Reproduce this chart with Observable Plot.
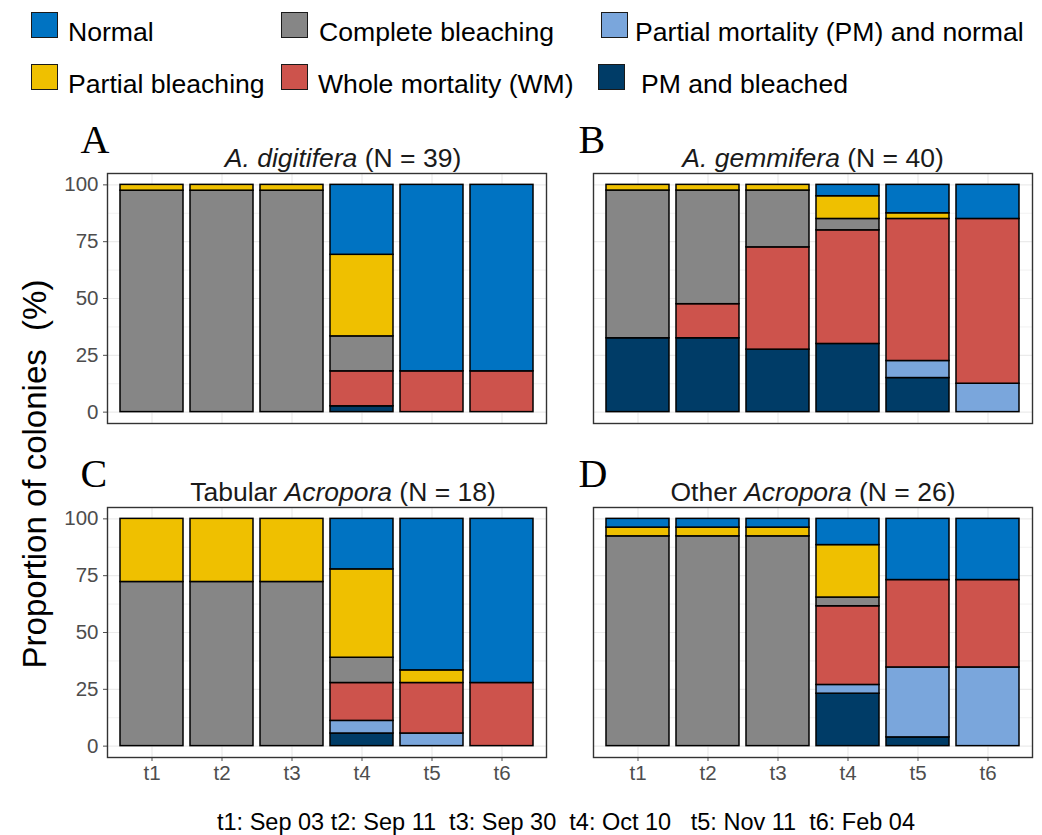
<!DOCTYPE html>
<html>
<head>
<meta charset="utf-8">
<script src="https://cdn.jsdelivr.net/npm/d3@7"></script>
<script src="https://cdn.jsdelivr.net/npm/@observablehq/plot@0.6"></script>
<style>
  body { margin: 0; background: #fff; font-family: "Liberation Sans", Arial, sans-serif; }
  #wrap { position: relative; width: 1042px; height: 835px; overflow: hidden; background: #fff; }
  .sw { position: absolute; box-sizing: border-box; width: 27px; height: 26px; border: 1.5px solid #1a1a1a; }
  .lab { position: absolute; font-size: 26.6px; line-height: 26px; color: #000; white-space: pre; }
  #ytitle { position: absolute; z-index: 5; left: 34px; top: 474px; font-size: 33px; line-height: 33px; color: #000;
            white-space: pre; transform: translate(-50%, -50%) rotate(-90deg); }
  #caption { position: absolute; z-index: 5; left: 566px; top: 811px; font-size: 23.5px; line-height: 23px; color: #000;
             white-space: pre; transform: translateX(-50%); }
  #chart { position: absolute; z-index: 1; left: 0; top: 110px; }
</style>
</head>
<body>
<div id="wrap">
  <div id="legend"></div>
  <div id="ytitle">Proportion of colonies  (%)</div>
  <div id="caption">t1: Sep 03 t2: Sep 11  t3: Sep 30  t4: Oct 10   t5: Nov 11  t6: Feb 04</div>
  <div id="chart"></div>
</div>
<script>
// ---------- data ----------
const times = ["t1", "t2", "t3", "t4", "t5", "t6"];
// stacking order, bottom -> top
const categories = [
  "PM and bleached",
  "Partial mortality (PM) and normal",
  "Whole mortality (WM)",
  "Complete bleaching",
  "Partial bleaching",
  "Normal"
];
const colors = ["#003C67", "#7AA6DC", "#CD534C", "#868686", "#EFC000", "#0073C2"];
const legendOrder = [
  "Normal", "Complete bleaching", "Partial mortality (PM) and normal",
  "Partial bleaching", "Whole mortality (WM)", "PM and bleached"
];

const panelLetters = ["A", "B", "C", "D"];
const titlePre = ["", "", "Tabular ", "Other "];
const titleItalic = ["A. digitifera", "A. gemmifera", "Acropora", "Acropora"];
const colonyN = [39, 40, 18, 26];

// colony counts: rows = categories (bottom -> top), columns = t1..t6
const digitifera = [
  [0, 0, 0, 1, 0, 0],
  [0, 0, 0, 0, 0, 0],
  [0, 0, 0, 6, 7, 7],
  [38, 38, 38, 6, 0, 0],
  [1, 1, 1, 14, 0, 0],
  [0, 0, 0, 12, 32, 32]
];
const gemmifera = [
  [13, 13, 11, 12, 6, 0],
  [0, 0, 0, 0, 3, 5],
  [0, 6, 18, 20, 25, 29],
  [26, 20, 10, 2, 0, 0],
  [1, 1, 1, 4, 1, 0],
  [0, 0, 0, 2, 5, 6]
];
const tabularAcropora = [
  [0, 0, 0, 1, 0, 0],
  [0, 0, 0, 1, 1, 0],
  [0, 0, 0, 3, 4, 5],
  [13, 13, 13, 2, 0, 0],
  [5, 5, 5, 7, 1, 0],
  [0, 0, 0, 4, 12, 13]
];
const otherAcropora = [
  [0, 0, 0, 6, 1, 0],
  [0, 0, 0, 1, 8, 9],
  [0, 0, 0, 9, 10, 10],
  [24, 24, 24, 1, 0, 0],
  [1, 1, 1, 6, 0, 0],
  [1, 1, 1, 3, 7, 7]
];
const yTicks = [0, 25, 50, 75, 100];
const yMinor = [12.5, 37.5, 62.5, 87.5];

// ---------- build tables ----------
const countTables = [digitifera, gemmifera, tabularAcropora, otherAcropora];
const panels = panelLetters.map((letter, i) => ({
  letter,
  col: i % 2,
  row: Math.floor(i / 2),
  pre: titlePre[i],
  ital: titleItalic[i],
  post: ` (N = ${colonyN[i]})`,
  title: titlePre[i] + titleItalic[i] + ` (N = ${colonyN[i]})`
}));
const rows = [];
countTables.forEach((table, s) => {
  table.forEach((counts, c) => {
    counts.forEach((n, t) => {
      if (n > 0) rows.push({
        col: s % 2, row: Math.floor(s / 2),
        time: times[t], category: categories[c],
        pct: n / colonyN[s] * 100
      });
    });
  });
});

// ---------- legend (HTML) ----------
const legendLayout = [
  {sx: 31, sy: 12, tx: 68, ty: 19},
  {sx: 281, sy: 12, tx: 319, ty: 19},
  {sx: 601, sy: 12, tx: 635, ty: 19},
  {sx: 31, sy: 64, tx: 68, ty: 71},
  {sx: 281, sy: 64, tx: 318, ty: 71},
  {sx: 598, sy: 64, tx: 641, ty: 71}
];
const legend = document.getElementById("legend");
legendOrder.forEach((name, i) => {
  const L = legendLayout[i];
  const sw = document.createElement("div");
  sw.className = "sw";
  sw.style.left = L.sx + "px"; sw.style.top = L.sy + "px";
  sw.style.background = colors[categories.indexOf(name)];
  legend.appendChild(sw);
  const lab = document.createElement("div");
  lab.className = "lab";
  lab.style.left = L.tx + "px"; lab.style.top = L.ty + "px";
  lab.textContent = name;
  legend.appendChild(lab);
});

// ---------- chart ----------
const titleStyle = {fx: "col", fy: "row", text: "title", frameAnchor: "top",
  lineAnchor: "bottom", dy: -7, fontSize: 26.5, fill: "#1a1a1a"};
const letterStyle = {fx: "col", fy: "row", text: "letter", frameAnchor: "top-left", textAnchor: "start",
  lineAnchor: "bottom", dy: -21, fontSize: 40,
  fontFamily: '"Liberation Serif", "Times New Roman", serif', fill: "black"};

const chart = Plot.plot({
  width: 1042,
  height: 685,
  marginLeft: 107,
  marginRight: 10,
  marginTop: 63,
  marginBottom: 38,
  style: {
    fontFamily: '"Liberation Sans", Arial, sans-serif',
    fontSize: "20.5px",
    color: "#4d4d4d",
    background: "transparent",
    overflow: "visible"
  },
  fx: {domain: [0, 1], paddingInner: 0.0967, paddingOuter: 0, axis: null, round: false},
  fy: {domain: [0, 1], paddingInner: 0.2515, paddingOuter: 0, axis: null, round: false},
  x: {domain: times, paddingInner: 0.1, paddingOuter: 0.15, label: null, tickSize: 4, tickPadding: 4},
  y: {domain: [-5, 105], ticks: yTicks, label: null, tickSize: 4, tickPadding: 5},
  color: {domain: categories, range: colors},
  marks: [
    Plot.ruleY(yMinor, {stroke: "#ebebeb", strokeWidth: 0.7}),
    Plot.ruleY(yTicks, {stroke: "#ebebeb", strokeWidth: 1.2}),
    Plot.ruleX(times, {stroke: "#ebebeb", strokeWidth: 1.2}),
    Plot.barY(rows, {
      fx: "col", fy: "row", x: "time", y: "pct",
      fill: "category", order: categories,
      stroke: "black", strokeWidth: 1.5
    }),
    Plot.frame({stroke: "#333333", strokeWidth: 1.4}),
    Plot.text(panels.filter(p => p.col === 0), {...titleStyle, dx: 16}),
    Plot.text(panels.filter(p => p.col === 1), {...titleStyle, dx: 0}),
    Plot.text(panels.filter(p => p.col === 0), {...letterStyle, dx: -27}),
    Plot.text(panels.filter(p => p.col === 1), {...letterStyle, dx: -15})
  ]
});

// rich titles: italic species names
d3.select(chart).selectAll("text").each(function () {
  const p = panels.find(q => q.title === this.textContent);
  if (!p) return;
  const t = d3.select(this);
  t.text(null).style("white-space", "pre");
  if (p.pre) t.append("tspan").text(p.pre);
  t.append("tspan").attr("font-style", "italic").text(p.ital);
  t.append("tspan").text(p.post);
});

document.getElementById("chart").appendChild(chart);
</script>
</body>
</html>
